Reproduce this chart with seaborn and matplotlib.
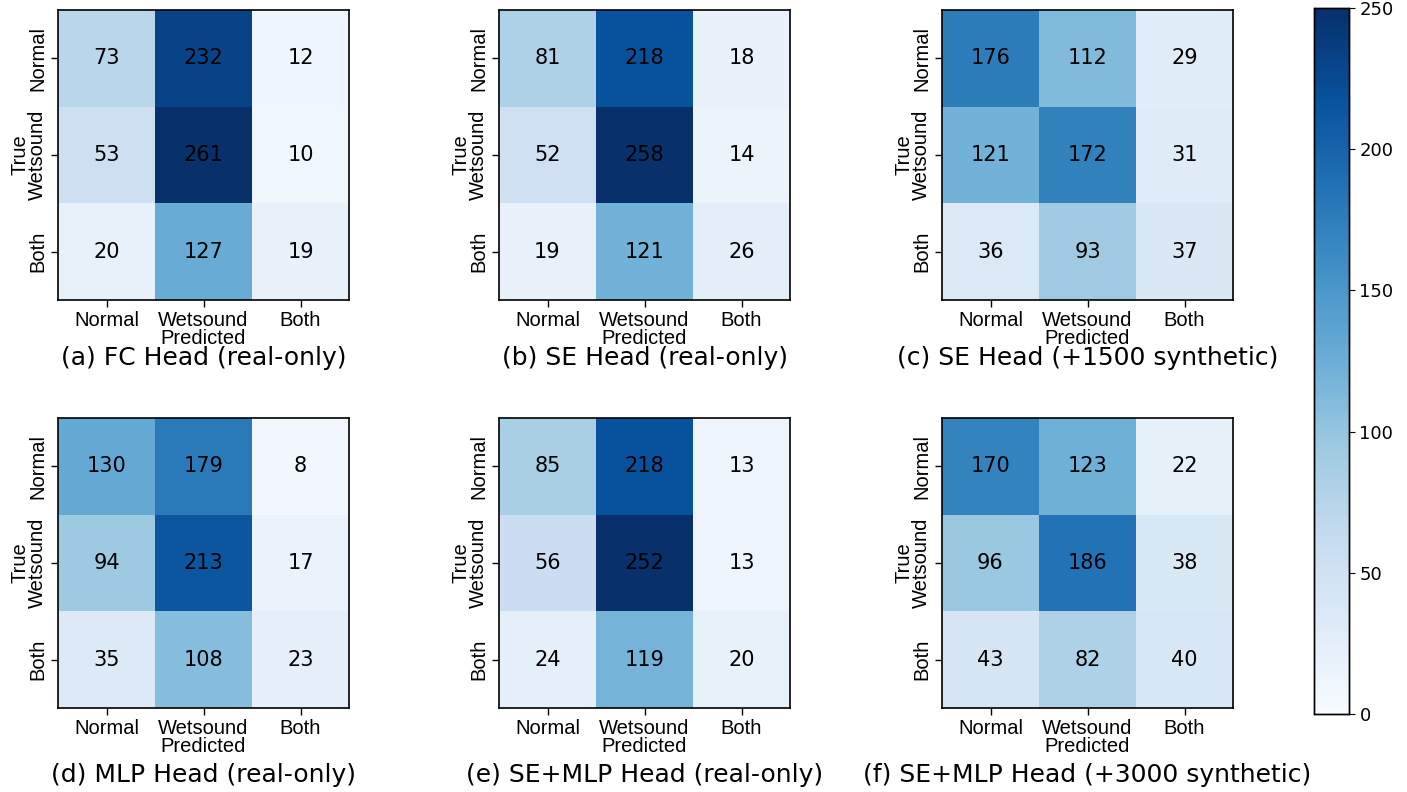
import numpy as np
import matplotlib
matplotlib.use("Agg")
import matplotlib.pyplot as plt
import seaborn as sns

classes = ["Normal", "Wetsound", "Both"]
titles = ["(a) FC Head (real-only)", "(b) SE Head (real-only)", "(c) SE Head (+1500 synthetic)",
          "(d) MLP Head (real-only)", "(e) SE+MLP Head (real-only)", "(f) SE+MLP Head (+3000 synthetic)"]
cm_a = [[73, 232, 12], [53, 261, 10], [20, 127, 19]]
cm_b = [[81, 218, 18], [52, 258, 14], [19, 121, 26]]
cm_c = [[176, 112, 29], [121, 172, 31], [36, 93, 37]]
cm_d = [[130, 179, 8], [94, 213, 17], [35, 108, 23]]
cm_e = [[85, 218, 13], [56, 252, 13], [24, 119, 20]]
cm_f = [[170, 123, 22], [96, 186, 38], [43, 82, 40]]
matrices = [cm_a, cm_b, cm_c, cm_d, cm_e, cm_f]
cbar_ticks = [0, 50, 100, 150, 200, 250]

W, H = 1407, 792
fig = plt.figure(figsize=(W / 100, H / 100), dpi=100)

lefts = [58, 499, 942]
tops = [10, 418]
cap_off = [-0.16, -0.19]
aw, ah = 291, 290
lab = 14.5

def rect(l, t, w, h):
    return [l / W, 1 - (t + h) / H, w / W, h / H]

cax = fig.add_axes(rect(1314, 8, 35, 706))

for i, (cm, title) in enumerate(zip(matrices, titles)):
    r, c = divmod(i, 3)
    ax = fig.add_axes(rect(lefts[c], tops[r], aw, ah))
    sns.heatmap(np.array(cm), ax=ax, cmap="Blues", vmin=0, vmax=250,
                annot=True, fmt="d", annot_kws={"color": "black", "fontsize": 15},
                cbar=(i == 0), cbar_ax=cax if i == 0 else None,
                xticklabels=classes, yticklabels=classes, square=False)
    for s in ax.spines.values():
        s.set_visible(True)
        s.set_linewidth(1.2)
        s.set_color("black")
    ax.tick_params(axis="both", length=5, width=1, pad=3)
    ax.set_xticklabels(classes, rotation=0, fontfamily="Liberation Sans", fontsize=lab)
    ax.set_yticklabels(classes, rotation=90, va="center", fontfamily="Liberation Sans", fontsize=lab)
    ax.set_xlabel("Predicted", fontfamily="Liberation Sans", fontsize=lab, labelpad=-1)
    ax.set_ylabel("True", fontfamily="Liberation Sans", fontsize=lab, labelpad=-1)
    ax.text(0.5, cap_off[r], title, transform=ax.transAxes, ha="center", va="top", fontsize=18)

cax.set_yticks(cbar_ticks)
cax.tick_params(labelsize=13, length=4)
for s in cax.spines.values():
    s.set_visible(True)
    s.set_linewidth(1)

fig.savefig("out.png", dpi=100)
